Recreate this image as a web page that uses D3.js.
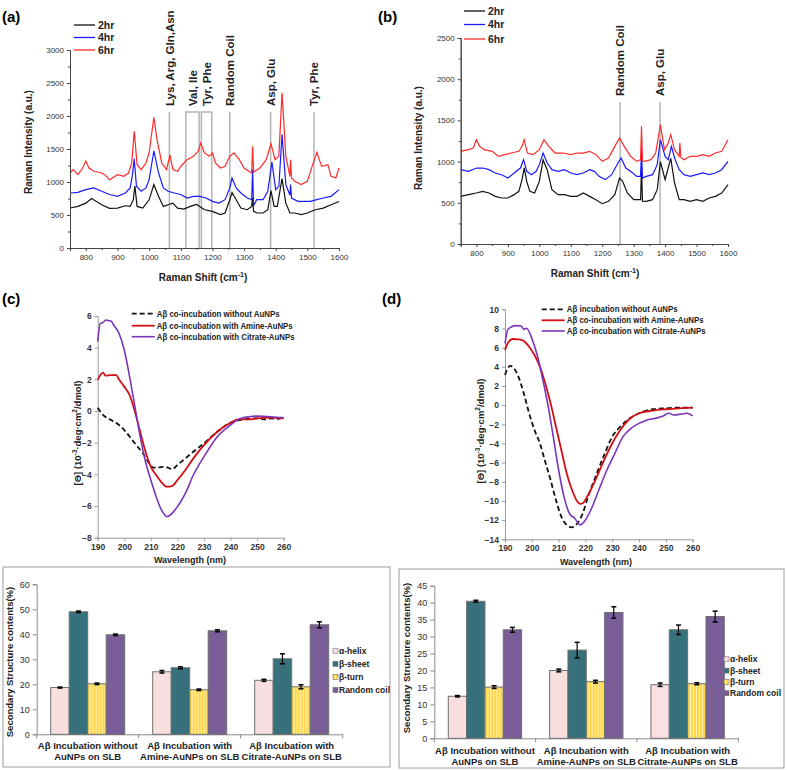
<!DOCTYPE html>
<meta charset="utf-8">
<style>
  body { margin: 0; background: #fff; }
  svg { font-family: Arial, "Liberation Sans", sans-serif; }
</style>
<body>
<svg id="fig" width="787" height="770"></svg>
<script src="https://cdn.jsdelivr.net/npm/d3@7/dist/d3.min.js"></script>
<script>
// ---------- data ----------
// Raman panel (a): [shift cm-1, intensity]
var ramanA_2hr = [[750,606],[775,630],[800,680],[818,750],[835,700],[850,655],[875,600],[900,605],[925,640],[940,630],[950,730],[955,940],[962,630],[980,605],[1000,730],[1015,960],[1030,780],[1045,630],[1060,655],[1075,680],[1090,605],[1110,590],[1130,630],[1150,660],[1160,630],[1175,580],[1200,555],[1225,505],[1240,530],[1255,730],[1262,840],[1275,730],[1290,605],[1310,580],[1324,630],[1327,760],[1330,560],[1340,530],[1360,530],[1375,580],[1385,870],[1395,630],[1405,630],[1420,1050],[1432,680],[1445,530],[1460,530],[1480,505],[1500,530],[1525,580],[1550,605],[1575,655],[1600,705]];
var ramanA_4hr = [[750,833],[775,843],[800,884],[825,910],[850,860],[875,810],[900,783],[925,833],[940,910],[947,1100],[953,1350],[960,935],[975,860],[990,910],[1000,1035],[1015,1470],[1030,1136],[1045,910],[1060,860],[1080,833],[1100,810],[1120,757],[1140,783],[1160,783],[1180,757],[1200,707],[1220,680],[1240,732],[1255,910],[1262,1060],[1275,910],[1290,833],[1310,757],[1324,732],[1327,1190],[1330,640],[1340,732],[1360,732],[1375,860],[1388,1300],[1400,884],[1410,935],[1420,1720],[1432,960],[1445,800],[1447,960],[1450,757],[1470,707],[1490,707],[1510,707],[1530,732],[1550,757],[1575,783],[1600,884]];
var ramanA_6hr = [[750,1136],[760,1187],[775,1111],[790,1212],[800,1320],[810,1212],[825,1162],[850,1136],[860,1111],[875,1035],[900,1111],[920,1086],[935,1136],[945,1288],[953,1770],[962,1263],[975,1187],[990,1288],[1000,1440],[1015,1980],[1025,1641],[1040,1288],[1055,1187],[1066,1410],[1075,1187],[1090,1162],[1100,1237],[1110,1288],[1120,1338],[1140,1389],[1155,1465],[1163,1590],[1175,1440],[1190,1389],[1200,1440],[1210,1288],[1225,1212],[1240,1237],[1255,1389],[1268,1440],[1285,1338],[1300,1212],[1315,1162],[1324,1136],[1327,1540],[1330,1150],[1350,1212],[1370,1338],[1385,1580],[1398,1338],[1410,1389],[1420,2350],[1432,1389],[1445,1086],[1447,1338],[1450,1060],[1460,1010],[1480,960],[1500,1010],[1515,1237],[1530,1450],[1545,1237],[1565,1263],[1575,1086],[1590,1060],[1600,1212]];
// Raman panel (b)
var ramanB_2hr = [[750,578],[775,599],[800,619],[820,639],[840,619],[860,578],[880,558],[900,558],[920,599],[935,639],[945,781],[952,925],[960,760],[970,639],[985,619],[1000,760],[1012,1020],[1025,902],[1040,659],[1060,599],[1080,599],[1100,578],[1120,578],[1140,619],[1160,578],[1180,538],[1200,489],[1220,518],[1240,599],[1255,800],[1265,760],[1280,619],[1300,538],[1322,538],[1325,940],[1328,520],[1340,518],[1360,538],[1375,659],[1385,1000],[1400,781],[1418,1040],[1430,740],[1445,538],[1460,538],[1480,518],[1500,538],[1520,518],[1540,558],[1560,578],[1580,619],[1600,720]];
var ramanB_4hr = [[750,902],[775,882],[800,922],[820,922],[840,902],[860,862],[880,841],[900,801],[920,862],[940,922],[950,1023],[960,882],[975,841],[990,882],[1000,963],[1012,1104],[1025,983],[1040,902],[1060,882],[1080,902],[1100,862],[1120,841],[1140,862],[1160,902],[1175,882],[1190,821],[1210,781],[1230,841],[1250,983],[1260,1044],[1275,922],[1290,882],[1310,821],[1322,821],[1325,1150],[1328,800],[1340,821],[1360,841],[1375,963],[1385,1266],[1400,1064],[1410,1023],[1420,1185],[1432,1023],[1445,902],[1460,841],[1480,821],[1500,841],[1520,862],[1540,841],[1560,862],[1580,902],[1600,1003]];
var ramanB_6hr = [[750,1125],[775,1145],[790,1165],[800,1266],[810,1185],[825,1145],[850,1125],[870,1064],[890,1084],[910,1104],[935,1125],[945,1185],[952,1266],[962,1104],[980,1084],[1000,1145],[1015,1266],[1030,1185],[1050,1104],[1075,1104],[1100,1084],[1120,1104],[1140,1104],[1160,1125],[1180,1084],[1200,1003],[1220,1044],[1240,1185],[1255,1286],[1270,1185],[1290,1064],[1310,1003],[1322,1023],[1325,1428],[1328,1010],[1335,1003],[1355,1023],[1370,1104],[1385,1448],[1398,1145],[1410,1226],[1418,1327],[1430,1145],[1445,1064],[1447,1226],[1450,1050],[1460,1023],[1480,1064],[1500,1064],[1520,1084],[1540,1064],[1560,1104],[1580,1125],[1600,1266]];
var ramanLegend = ["2hr", "4hr", "6hr"];
var ramanTicks = [800, 900, 1000, 1100, 1200, 1300, 1400, 1500, 1600];

// peak assignments
var peaksA = [
  {label: "Lys, Arg, Gln,Asn", at: 1064},
  {label: "Val, Ile", at: 1137},
  {label: "Tyr, Phe", at: 1181},
  {label: "Random Coil", at: 1255},
  {label: "Asp, Glu", at: 1384},
  {label: "Tyr, Phe", at: 1521}
];
var peakLinesA = [1064, 1255, 1384, 1521];
var peakBoxesA = [[1116, 1158], [1165, 1198]];
var peaksB = [
  {label: "Random Coil", at: 1257},
  {label: "Asp, Glu", at: 1384}
];

// CD panel (c): [wavelength nm, theta]
var cdC_none = [[190,0.2],[192,-0.25],[195,-0.57],[198,-0.88],[200,-1.2],[203,-1.83],[205,-2.25],[207,-2.67],[209,-3.2],[211,-3.58],[213,-3.56],[215,-3.52],[217,-3.62],[218,-3.68],[220,-3.41],[223,-2.99],[226,-2.57],[230,-2.04],[235,-1.31],[240,-0.74],[245,-0.53],[250,-0.46],[253,-0.53],[255,-0.46],[258,-0.5],[260,-0.36]];
var cdC_amine = [[190,1.96],[191,2.27],[192,2.42],[193,2.23],[195,2.27],[197,2.27],[198,2.0],[200,1.54],[202,1.01],[204,-0.04],[206,-1.31],[208,-2.57],[210,-3.52],[212,-4.04],[214,-4.5],[216,-4.78],[218,-4.74],[220,-4.36],[223,-3.73],[226,-2.99],[230,-2.15],[235,-1.31],[240,-0.74],[243,-0.53],[247,-0.53],[250,-0.46],[255,-0.42],[260,-0.46]];
var cdC_citrate = [[190,4.38],[191,5.54],[192,5.58],[193,5.75],[194,5.71],[195,5.68],[196,5.43],[198,4.91],[200,3.85],[202,2.17],[204,0.27],[206,-1.62],[208,-3.2],[210,-4.36],[212,-5.41],[214,-6.25],[216,-6.67],[218,-6.46],[220,-6.04],[223,-5.2],[226,-4.04],[230,-2.88],[235,-1.62],[240,-0.88],[243,-0.53],[247,-0.36],[250,-0.32],[255,-0.36],[260,-0.42]];
// CD panel (d)
var cdD_none = [[190,3.15],[191,3.84],[192,4.09],[193,3.95],[195,2.97],[197,1.23],[199,-0.85],[201,-2.59],[203,-3.98],[205,-5.9],[207,-7.81],[209,-9.9],[211,-11.63],[213,-12.5],[215,-12.75],[217,-12.33],[219,-11.29],[221,-9.55],[224,-7.29],[227,-5.2],[230,-3.29],[233,-2.24],[236,-1.48],[240,-0.85],[245,-0.43],[250,-0.33],[255,-0.26],[260,-0.26]];
var cdD_amine = [[190,5.75],[191,6.45],[192,6.8],[193,6.9],[195,6.87],[197,6.7],[199,6.1],[201,5.23],[203,4.02],[205,2.28],[207,0.19],[209,-2.24],[211,-4.68],[213,-7.1],[215,-8.85],[217,-10.07],[218,-10.31],[219,-10.24],[221,-9.37],[224,-7.63],[227,-5.72],[230,-3.98],[233,-2.59],[236,-1.55],[240,-0.85],[245,-0.57],[250,-0.43],[255,-0.33],[260,-0.26]];
var cdD_citrate = [[190,6.45],[191,7.84],[192,8.12],[194,8.3],[196,8.26],[197,7.91],[198,8.02],[200,6.97],[202,5.23],[204,2.8],[206,0.02],[208,-3.29],[210,-6.77],[212,-9.55],[214,-11.29],[216,-11.81],[218,-12.5],[220,-11.98],[222,-10.94],[225,-8.85],[228,-6.77],[231,-5.02],[234,-3.29],[237,-2.42],[240,-1.9],[243,-1.55],[246,-1.38],[249,-1.13],[251,-0.85],[253,-1.03],[256,-0.92],[258,-0.85],[260,-1.13]];
var cdLegendC = ["A\u03b2 co-incubation without AuNPs", "A\u03b2 co-incubation with Amine-AuNPs", "A\u03b2 co-incubation with Citrate-AuNPs"];
var cdLegendD = ["A\u03b2 incubation without AuNPs", "A\u03b2 co-incubation with Amine-AuNPs", "A\u03b2 co-incubation with Citrate-AuNPs"];
var cdTicksX = [190, 200, 210, 220, 230, 240, 250, 260];

// secondary structure bars
var structures = ["\u03b1-helix", "\u03b2-sheet", "\u03b2-turn", "Random coil"];
var groupLabels = [
  ["A\u03b2 Incubation without", "AuNPs on SLB"],
  ["A\u03b2 Incubation with", "Amine-AuNPs on SLB"],
  ["A\u03b2 Incubation with", "Citrate-AuNPs on SLB"]
];
var barsLeft = [[18.7, 49.0, 20.2, 39.8], [25.0, 26.6, 17.8, 41.4], [21.6, 30.2, 19.0, 43.8]];
var errLeft  = [[0.2, 0.3, 0.3, 0.3], [0.5, 0.4, 0.3, 0.4], [0.4, 2.0, 0.8, 1.2]];
var barsRight = [[12.4, 40.4, 15.1, 32.0], [20.0, 26.0, 16.7, 37.1], [15.8, 32.0, 16.1, 35.9]];
var errRight  = [[0.2, 0.3, 0.4, 0.7], [0.4, 2.3, 0.4, 1.7], [0.5, 1.4, 0.3, 1.6]];

// ---------- drawing ----------
var svg = d3.select("#fig");
var defs = svg.append("defs");

var ramanColors = ["#111111", "#1a1aff", "#ff2a2a"];
var cdStyles = [
  {stroke: "#111", dash: "5,3", width: 1.8},
  {stroke: "#d40f14", dash: null, width: 1.8},
  {stroke: "#7a34b8", dash: null, width: 1.6}
];

function panelLetter(txt, x, y) {
  svg.append("text").attr("x", x).attr("y", y)
    .attr("font-size", 15).attr("font-weight", "bold").text(txt);
}

function ramanPanel(o) {
  var g = svg.append("g");
  var x = d3.scaleLinear().domain([750, 1600]).range([o.x0, o.x1]);
  var y = d3.scaleLinear().domain([0, o.ymax]).range([o.yb, o.yt]);

  // assignment lines
  (o.lines || []).forEach(function(v) {
    g.append("line").attr("x1", x(v)).attr("x2", x(v))
      .attr("y1", y(0)).attr("y2", y(o.markTop))
      .attr("stroke", "#b5b5b5").attr("stroke-width", 1.5);
  });
  (o.boxes || []).forEach(function(b) {
    g.append("path")
      .attr("d", "M" + x(b[0]) + "," + y(0) + "V" + y(o.markTop) + "H" + x(b[1]) + "V" + y(0))
      .attr("fill", "none").attr("stroke", "#b5b5b5").attr("stroke-width", 1.5);
  });

  var line = d3.line().x(function(d) { return x(d[0]); }).y(function(d) { return y(d[1]); });
  o.series.forEach(function(s, i) {
    g.append("path").datum(s).attr("d", line)
      .attr("fill", "none").attr("stroke", ramanColors[i]).attr("stroke-width", 1.2);
  });

  // peak labels
  o.peaks.forEach(function(p) {
    g.append("text")
      .attr("transform", "translate(" + x(p.at) + "," + o.labelBottom + ") rotate(-90)")
      .attr("dy", "0.36em").attr("font-size", 11.5).attr("font-weight", "bold")
      .attr("fill", "#222").text(p.label);
  });

  // axes
  var fmt = d3.format("d");
  g.append("g").attr("transform", "translate(0," + o.yb + ")")
    .call(d3.axisBottom(x).tickValues(ramanTicks).tickSize(3).tickPadding(3).tickFormat(fmt));
  g.append("g").attr("transform", "translate(0," + o.yb + ")")
    .call(d3.axisBottom(x).tickValues(d3.range(750, 1600, 100)).tickSize(2).tickFormat(""));
  g.append("g").attr("transform", "translate(" + o.x0 + ",0)")
    .call(d3.axisLeft(y).tickValues(d3.range(0, o.ymax + 1, 500)).tickSize(3).tickPadding(3).tickFormat(fmt));
  g.append("g").attr("transform", "translate(" + o.x0 + ",0)")
    .call(d3.axisLeft(y).tickValues(d3.range(250, o.ymax, 500)).tickSize(2).tickFormat(""));
  g.selectAll(".domain").attr("stroke", "#444");
  g.selectAll(".tick line").attr("stroke", "#444");
  g.selectAll(".tick text").attr("font-size", 8).attr("fill", "#333").attr("font-family", "Arial, 'Liberation Sans', sans-serif");

  // axis titles
  g.append("text").attr("transform", "translate(" + o.ylabX + "," + o.ylabY + ") rotate(-90)")
    .attr("text-anchor", "middle").attr("dy", "0.35em")
    .attr("font-size", 10).attr("font-weight", "bold").attr("fill", "#222")
    .text("Raman Intensity (a.u.)");
  var xt = g.append("text").attr("x", o.xlabX).attr("y", o.xlabY)
    .attr("text-anchor", "middle").attr("font-size", 10).attr("font-weight", "bold").attr("fill", "#222");
  xt.append("tspan").text("Raman Shift (cm");
  xt.append("tspan").attr("font-size", 7).attr("dy", -4).text("-1");
  xt.append("tspan").attr("dy", 4).text(")");

  // legend
  ramanLegend.forEach(function(t, i) {
    var ly = o.legY[i];
    g.append("line").attr("x1", o.legX).attr("x2", o.legX + 21).attr("y1", ly).attr("y2", ly)
      .attr("stroke", ramanColors[i]).attr("stroke-width", 1.3);
    g.append("text").attr("x", o.legX + 24).attr("y", ly).attr("dy", "0.35em")
      .attr("font-size", 10.5).attr("font-weight", "bold").attr("fill", "#222").text(t);
  });
}

ramanPanel({
  x0: 70, x1: 339, yb: 248, yt: 50, ymax: 3000, markTop: 2060,
  series: [ramanA_2hr, ramanA_4hr, ramanA_6hr],
  lines: peakLinesA, boxes: peakBoxesA, peaks: peaksA, labelBottom: 106,
  ylabX: 28, ylabY: 142, xlabX: 203, xlabY: 281,
  legX: 74, legY: [25, 37.5, 50]
});
ramanPanel({
  x0: 460.7, x1: 728, yb: 244, yt: 38, ymax: 2500, markTop: 1723,
  series: [ramanB_2hr, ramanB_4hr, ramanB_6hr],
  lines: [1257, 1384], boxes: [], peaks: peaksB, labelBottom: 96,
  ylabX: 418, ylabY: 138, xlabX: 595, xlabY: 277,
  legX: 464, legY: [11, 24.5, 39]
});

function cdPanel(o) {
  var g = svg.append("g");
  var x = d3.scaleLinear().domain([190, 260]).range([o.x0, o.x1]);
  var y = d3.scaleLinear().domain([o.ymin, o.ymax]).range([o.yb, o.yt]);

  g.append("g").attr("transform", "translate(0," + o.yb + ")")
    .call(d3.axisBottom(x).tickValues(cdTicksX).tickSize(3).tickPadding(3));
  g.append("g").attr("transform", "translate(" + o.x0 + ",0)")
    .call(d3.axisLeft(y).tickValues(d3.range(o.ymin, o.ymax + 1, 2)).tickSize(3).tickPadding(3));
  g.selectAll(".domain").attr("stroke", "#9a9a9a");
  g.selectAll(".tick line").attr("stroke", "#9a9a9a");
  g.selectAll(".tick text").attr("font-size", 8.5).attr("font-weight", "bold").attr("fill", "#333")
    .attr("font-family", "Arial, 'Liberation Sans', sans-serif");

  var line = d3.line().curve(d3.curveMonotoneX)
    .x(function(d) { return x(d[0]); }).y(function(d) { return y(d[1]); });
  o.series.forEach(function(s, i) {
    g.append("path").datum(s).attr("d", line).attr("fill", "none")
      .attr("stroke", cdStyles[i].stroke).attr("stroke-width", cdStyles[i].width)
      .attr("stroke-dasharray", cdStyles[i].dash);
  });

  o.legend.forEach(function(t, i) {
    var ly = o.legY[i];
    g.append("line").attr("x1", o.legX).attr("x2", o.legX + 23).attr("y1", ly).attr("y2", ly)
      .attr("stroke", cdStyles[i].stroke).attr("stroke-width", cdStyles[i].width)
      .attr("stroke-dasharray", cdStyles[i].dash);
    g.append("text").attr("x", o.legX + 25).attr("y", ly).attr("dy", "0.35em")
      .attr("font-size", 8.5).attr("font-weight", "bold").attr("fill", "#222")
      .attr("textLength", o.legW[i]).attr("lengthAdjust", "spacingAndGlyphs").text(t);
  });

  var yt = g.append("text").attr("transform", "translate(" + o.ylabX + "," + o.ylabY + ") rotate(-90)")
    .attr("text-anchor", "middle").attr("dy", "0.35em")
    .attr("font-size", 9.5).attr("font-weight", "bold").attr("fill", "#222");
  yt.append("tspan").text("[\u0398] (10");
  yt.append("tspan").attr("font-size", 6.5).attr("dy", -3.5).text("-3");
  yt.append("tspan").attr("dy", 3.5).text("\u00b7deg\u00b7cm");
  yt.append("tspan").attr("font-size", 6.5).attr("dy", -3.5).text("2");
  yt.append("tspan").attr("dy", 3.5).text("/dmol)");

  g.append("text").attr("x", o.xlabX).attr("y", o.xlabY).attr("dy", "0.35em")
    .attr("text-anchor", "middle").attr("font-size", 9).attr("font-weight", "bold")
    .attr("fill", "#222").text("Wavelength (nm)");
}

cdPanel({
  x0: 97.7, x1: 283.7, yb: 537.7, yt: 316, ymin: -8, ymax: 6,
  series: [cdC_none, cdC_amine, cdC_citrate], legend: cdLegendC,
  legX: 131.7, legY: [313.7, 325.7, 336.7], legW: [123, 136, 138],
  ylabX: 77.5, ylabY: 433, xlabX: 190, xlabY: 560
});
cdPanel({
  x0: 505, x1: 692.7, yb: 539.3, yt: 309.3, ymin: -14, ymax: 10,
  series: [cdD_none, cdD_amine, cdD_citrate], legend: cdLegendD,
  legX: 541.7, legY: [309.3, 320.3, 331], legW: [111, 137, 139],
  ylabX: 480.5, ylabY: 431, xlabX: 596, xlabY: 562
});

// bar fill patterns
function checker(id, a, b) {
  var p = defs.append("pattern").attr("id", id).attr("patternUnits", "userSpaceOnUse")
    .attr("width", 2).attr("height", 2);
  p.append("rect").attr("width", 2).attr("height", 2).attr("fill", a);
  p.append("rect").attr("width", 1).attr("height", 1).attr("fill", b);
  p.append("rect").attr("x", 1).attr("y", 1).attr("width", 1).attr("height", 1).attr("fill", b);
}
checker("pHelix", "#f7d6d6", "#fbe9e9");
checker("pSheet", "#2e6470", "#3f7d87");
checker("pCoil", "#6f5290", "#8468a0");
var ps = defs.append("pattern").attr("id", "pTurn").attr("patternUnits", "userSpaceOnUse")
  .attr("width", 3).attr("height", 3);
ps.append("rect").attr("width", 3).attr("height", 3).attr("fill", "#fff3b0");
ps.append("rect").attr("width", 2).attr("height", 3).attr("fill", "#ffd54a");
var barFills = ["url(#pHelix)", "url(#pSheet)", "url(#pTurn)", "url(#pCoil)"];

function barPanel(o) {
  var g = svg.append("g");
  g.append("rect").attr("x", o.box[0]).attr("y", o.box[1])
    .attr("width", o.box[2] - o.box[0]).attr("height", o.box[3] - o.box[1])
    .attr("fill", "#fff").attr("stroke", "#9c9c9c").attr("stroke-width", 1);

  var x0 = d3.scaleBand().domain(d3.range(3)).range([o.x0, o.x1]);
  var bw = x0.bandwidth();
  var x1 = d3.scaleBand().domain(d3.range(4)).range([14, bw - 14]);
  var y = d3.scaleLinear().domain([0, o.ymax]).range([o.yb, o.yt]);

  g.append("g").attr("transform", "translate(" + o.x0 + ",0)")
    .call(d3.axisLeft(y).tickValues(d3.range(0, o.ymax + 1, o.step)).tickSize(4).tickPadding(3));
  g.append("g").attr("transform", "translate(0," + o.yb + ")")
    .call(d3.axisBottom(x0).tickValues([]).tickSize(0));
  // group separators
  d3.range(4).forEach(function(i) {
    var xx = o.x0 + i * bw;
    g.append("line").attr("x1", xx).attr("x2", xx).attr("y1", o.yb).attr("y2", o.yb + 4)
      .attr("stroke", "#8a8a8a");
  });
  g.selectAll(".domain").attr("stroke", "#8a8a8a");
  g.selectAll(".tick line").attr("stroke", "#8a8a8a");
  g.selectAll(".tick text").attr("font-size", 9).attr("fill", "#333")
    .attr("font-family", "Arial, 'Liberation Sans', sans-serif");

  o.values.forEach(function(row, gi) {
    var gg = g.append("g").attr("transform", "translate(" + x0(gi) + ",0)");
    gg.selectAll("rect").data(row).enter().append("rect")
      .attr("x", function(d, i) { return x1(i); })
      .attr("y", function(d) { return y(d); })
      .attr("width", x1.bandwidth())
      .attr("height", function(d) { return y(0) - y(d); })
      .attr("fill", function(d, i) { return barFills[i]; })
      .attr("stroke", "#6e6e6e").attr("stroke-width", 1);
    row.forEach(function(v, i) {
      var e = o.errors[gi][i], cx = x1(i) + x1.bandwidth() / 2;
      gg.append("line").attr("x1", cx).attr("x2", cx).attr("y1", y(v + e)).attr("y2", y(v - e))
        .attr("stroke", "#000").attr("stroke-width", 1.2);
      [v + e, v - e].forEach(function(t) {
        gg.append("line").attr("x1", cx - 2.5).attr("x2", cx + 2.5).attr("y1", y(t)).attr("y2", y(t))
          .attr("stroke", "#000").attr("stroke-width", 1.5);
      });
    });
  });

  groupLabels.forEach(function(lines, gi) {
    lines.forEach(function(t, li) {
      g.append("text").attr("x", x0(gi) + bw / 2).attr("y", o.catY[li]).attr("dy", "0.35em")
        .attr("text-anchor", "middle").attr("font-size", 9.5).attr("font-weight", "bold")
        .attr("fill", "#222").text(t);
    });
  });

  structures.forEach(function(s, i) {
    var ly = o.legY0 + i * o.legDy;
    g.append("rect").attr("x", o.legX).attr("y", ly - 2.5).attr("width", 5).attr("height", 5)
      .attr("fill", barFills[i]).attr("stroke", "#6e6e6e").attr("stroke-width", 0.6);
    g.append("text").attr("x", o.legX + 6).attr("y", ly).attr("dy", "0.35em")
      .attr("font-size", 8.5).attr("font-weight", "bold").attr("fill", "#222").text(s);
  });

  g.append("text").attr("transform", "translate(" + o.ylabX + "," + o.ylabY + ") rotate(-90)")
    .attr("text-anchor", "middle").attr("dy", "0.35em")
    .attr("font-size", 9.5).attr("font-weight", "bold").attr("fill", "#222")
    .text("Secondary Structure contents(%)");
}

barPanel({
  box: [3, 567, 390, 767], x0: 36.7, x1: 342.7, yb: 734.3, yt: 584.3, ymax: 60, step: 10,
  values: barsLeft, errors: errLeft, catY: [745.7, 756.7],
  legX: 333, legY0: 650.7, legDy: 13.1, ylabX: 10, ylabY: 662
});
barPanel({
  box: [399, 569, 784, 768], x0: 434.3, x1: 738.3, yb: 738.3, yt: 585.7, ymax: 45, step: 5,
  values: barsRight, errors: errRight, catY: [750.7, 762],
  legX: 724, legY0: 659.3, legDy: 11.3, ylabX: 407, ylabY: 658
});

panelLetter("(a)", 2, 22);
panelLetter("(b)", 378, 22);
panelLetter("(c)", 2, 304);
panelLetter("(d)", 382, 304);
</script>
</body>
